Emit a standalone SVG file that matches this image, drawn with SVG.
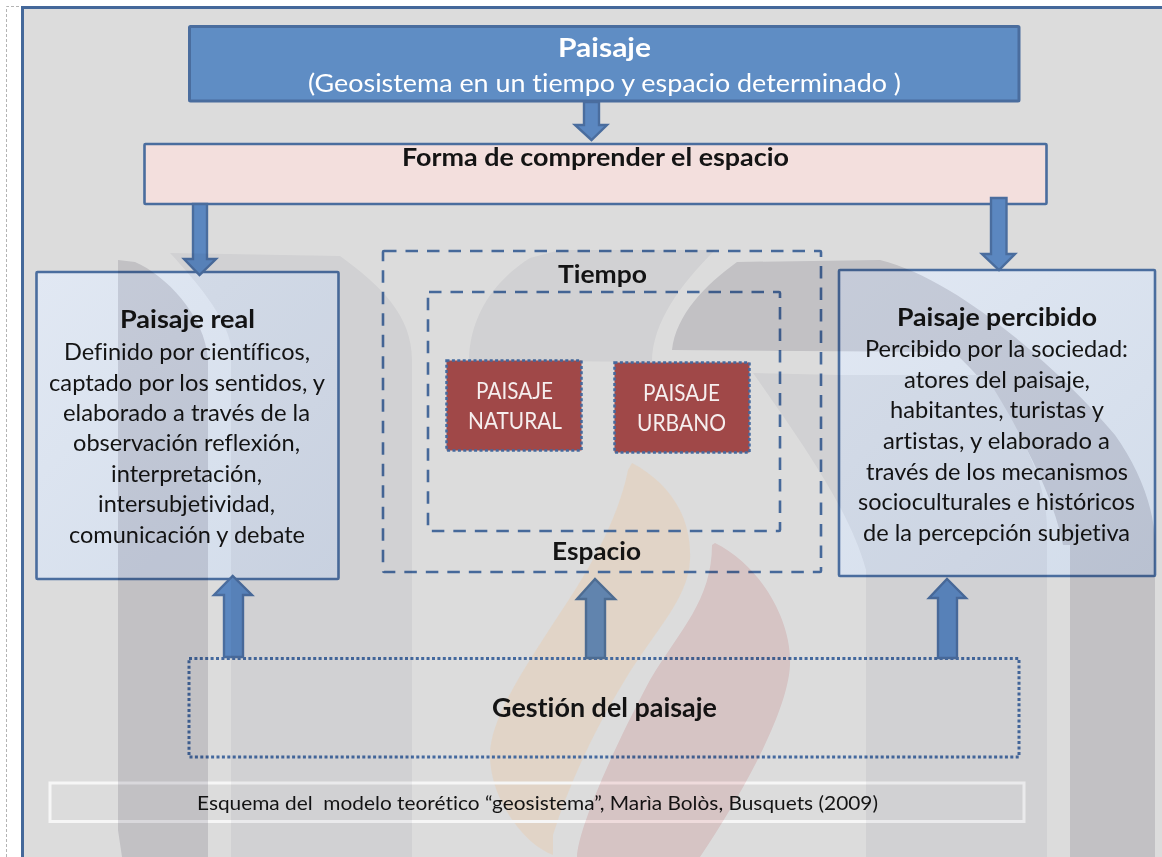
<svg xmlns="http://www.w3.org/2000/svg" width="1162" height="857" viewBox="0 0 1162 857">
<style>
text{font-family:"Lato","Carlito","Open Sans",sans-serif;text-anchor:middle;fill:#141414;font-variant-ligatures:none}
.b{font-weight:700}
.body{font-size:22.5px}
.title{font-size:24px;font-weight:700}
.w{fill:#fff}
.red{font-size:22.5px;fill:#f6eeee}
.solid{stroke:#4a6d9e;stroke-width:2.6}
.dash{fill:none;stroke:#46699a;stroke-width:2.6;stroke-dasharray:12.5 9}
.dot{stroke:#44699e;stroke-dasharray:3 2.4}
.arrow{fill:#5b87c0;stroke:#4a6d9e;stroke-width:2.4;stroke-linejoin:miter}
.wd{fill:#e1e0e4}
.wl{fill:#f3f3f5}
</style>
<defs>
<linearGradient id="boxg" x1="0" y1="0" x2="1" y2="1"><stop offset="0" stop-color="#e1e8f3"/><stop offset="1" stop-color="#d2dcea"/></linearGradient>
</defs>
<rect width="1162" height="857" fill="#fff"/>
<path d="M6.500 857V6.500H22" fill="none" stroke="#b4b4b4" stroke-width="1" stroke-dasharray="3 2"/>
<path id="panel" d="M1162 7.500H22.500V857H1162Z" fill="#dcdcdc"/>
<path d="M1162 7.500H22.500V857" fill="none" stroke="#44689a" stroke-width="3"/>
<path id="watermark-orange" fill="#eec297" fill-opacity=".3" d="M632 463C668 482 692 515 690 560C688 600 655 630 625 680C600 720 570 780 553 835L553 855C525 845 490 800 490 755C490 715 530 660 575 590C600 550 620 510 628 470Z"/>

<g id="node-paisaje">
<rect x="189.500" y="26.500" width="829.500" height="74.500" rx="1" fill="#5f8dc4" stroke="#4a6d9e" stroke-width="3"/>
<text class="w" x="604.500" y="57" font-size="26" font-weight="700" textLength="93" lengthAdjust="spacingAndGlyphs">Paisaje</text>
<text class="w" x="604.500" y="92" font-size="24.500" textLength="593" lengthAdjust="spacingAndGlyphs">(Geosistema en un tiempo y espacio determinado )</text>
</g>
<g id="node-forma">
<rect class="solid" x="144.500" y="144" width="902" height="60" rx="1" fill="#f3dfdd"/>
<text x="595.500" y="166" font-size="24.500" font-weight="700" textLength="387" lengthAdjust="spacingAndGlyphs">Forma de comprender el espacio</text>
</g>
<g id="node-real">
<rect class="solid" x="36.500" y="272" width="302" height="307" rx="1" fill="url(#boxg)"/>
<text class="title" x="187.500" y="328" textLength="135" lengthAdjust="spacingAndGlyphs">Paisaje real</text>
<text class="body" x="187" y="360" textLength="246" lengthAdjust="spacingAndGlyphs">Definido por científicos,</text>
<text class="body" x="187" y="391" textLength="276" lengthAdjust="spacingAndGlyphs">captado por los sentidos, y</text>
<text class="body" x="186.500" y="421" textLength="247" lengthAdjust="spacingAndGlyphs">elaborado a través de la</text>
<text class="body" x="186.500" y="451" textLength="227" lengthAdjust="spacingAndGlyphs">observación reflexión,</text>
<text class="body" x="186.500" y="482" textLength="151" lengthAdjust="spacingAndGlyphs">interpretación,</text>
<text class="body" x="186.500" y="512" textLength="177" lengthAdjust="spacingAndGlyphs">intersubjetividad,</text>
<text class="body" x="187" y="543" textLength="236" lengthAdjust="spacingAndGlyphs">comunicación y debate</text>
</g>
<g id="node-percibido">
<rect class="solid" x="839" y="270" width="316" height="306" rx="1" fill="url(#boxg)"/>
<text class="title" x="997" y="326" textLength="200" lengthAdjust="spacingAndGlyphs">Paisaje percibido</text>
<text class="body" x="996.500" y="357" textLength="263" lengthAdjust="spacingAndGlyphs">Percibido por la sociedad:</text>
<text class="body" x="997" y="388" textLength="186" lengthAdjust="spacingAndGlyphs">atores del paisaje,</text>
<text class="body" x="997" y="418" textLength="214" lengthAdjust="spacingAndGlyphs">habitantes, turistas y</text>
<text class="body" x="996.500" y="449" textLength="227" lengthAdjust="spacingAndGlyphs">artistas, y elaborado a</text>
<text class="body" x="997" y="480" textLength="262" lengthAdjust="spacingAndGlyphs">través de los mecanismos</text>
<text class="body" x="996.500" y="510" textLength="277" lengthAdjust="spacingAndGlyphs">socioculturales e históricos</text>
<text class="body" x="996.500" y="541" textLength="267" lengthAdjust="spacingAndGlyphs">de la percepción subjetiva</text>
</g>
<g id="node-tiempo">
<rect class="dash" x="383" y="251" width="438" height="321" rx="1"/>
<text class="title" x="602.500" y="283" textLength="89" lengthAdjust="spacingAndGlyphs">Tiempo</text>
</g>
<g id="node-espacio">
<rect class="dash" x="428" y="292" width="352" height="239" rx="1"/>
<text class="title" x="596.500" y="560" textLength="89" lengthAdjust="spacingAndGlyphs">Espacio</text>
</g>
<g id="node-natural">
<rect class="dot" x="446.500" y="360.500" width="135" height="90" fill="#a04848" stroke-width="2.500"/>
<text class="red" x="514.500" y="399" textLength="77" lengthAdjust="spacingAndGlyphs">PAISAJE</text>
<text class="red" x="515" y="429" textLength="94" lengthAdjust="spacingAndGlyphs">NATURAL</text>
</g>
<g id="node-urbano">
<rect class="dot" x="614.500" y="362.500" width="135" height="90" fill="#a04848" stroke-width="2.500"/>
<text class="red" x="681.500" y="401" textLength="77" lengthAdjust="spacingAndGlyphs">PAISAJE</text>
<text class="red" x="681.500" y="431" textLength="89" lengthAdjust="spacingAndGlyphs">URBANO</text>
</g>
<g id="node-gestion">
<rect class="dot" x="189" y="658.500" width="830" height="98.500" fill="none" stroke-width="3"/>
<text x="604.500" y="717" font-size="26" font-weight="700" textLength="225" lengthAdjust="spacingAndGlyphs">Gestión del paisaje</text>
</g>
<g id="node-esquema">
<rect x="50" y="783" width="974" height="38.500" fill="none" stroke="#f6f6f6" stroke-width="3"/>
<text x="537.500" y="810" font-size="19.500" textLength="681" lengthAdjust="spacingAndGlyphs" xml:space="preserve">Esquema del  modelo teorético “geosistema”, Marìa Bolòs, Busquets (2009)</text>
</g>

<g id="connectors">
<path class="arrow" d="M584 102H599V125H607L591.500 140 575 125H584Z"/>
<path class="arrow" d="M193 204H207V259H216L199.500 275 184 259H193Z"/>
<path class="arrow" d="M991 198H1006.500V254H1015L999 270 982 254H991Z"/>
<path class="arrow" d="M224 657V595H214L232.700 576 252 595H243V657Z"/>
<path class="arrow" style="fill:#6184ae;stroke:#4d6c92" d="M586 658V599H577L595 579 615 599H605V658Z"/>
<path class="arrow" d="M938 658V598H929L947 579 966 598H957V658Z"/>
</g>

<g id="watermark" style="mix-blend-mode:multiply">
<path class="wd" d="M118 260L135 262C165 275 205 315 208 360V857H122L118 830Z"/>
<path class="wl" d="M170 253L340 256C380 285 412 315 412 360V857H231V345C225 315 195 280 170 253Z"/>
<path class="wl" d="M469 360C470 315 495 280 530 258L560 250H715C685 280 652 320 652 362Z"/>
<path class="wd" d="M672 350C676 315 705 285 737 262L880 260C960 280 1060 370 1115 435C1140 470 1155 510 1155 545V857H1070V545H1063C1050 480 1000 390 953 352Z"/>
<path class="wl" d="M753 373L840 375H985C1020 430 1047 480 1047 530V857H866V570C850 510 800 440 753 373Z"/>
<path fill="#f8e3e4" d="M715 543C760 565 792 620 790 665C788 710 745 790 700 857H577C578 830 610 755 650 680C680 630 712 600 712 545Z"/>
</g>
</svg>
